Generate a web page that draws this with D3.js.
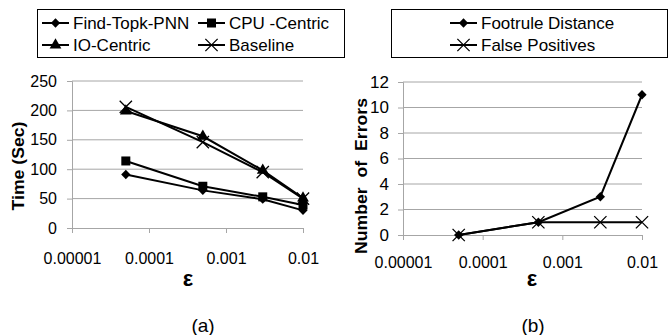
<!DOCTYPE html>
<html>
<head>
<meta charset="utf-8">
<script src="https://cdn.jsdelivr.net/npm/d3@7"></script>
<style>
  body { margin: 0; background: #fff; }
  svg { display: block; }
  text { font-family: "Liberation Sans", Arial, sans-serif; fill: #000; }
</style>
</head>
<body>
<svg id="chart" width="668" height="335"></svg>
<script>
    // epsilon values (x) shared by both panels
    var epsilon = [0.00005, 0.0005, 0.003, 0.01];
    var xTicks = [0.00001, 0.0001, 0.001, 0.01];
    var xTickLabels = ["0.00001", "0.0001", "0.001", "0.01"];

    // panel (a): time in seconds
    var timeNames = ["Find-Topk-PNN", "CPU -Centric", "IO-Centric", "Baseline"];
    var findTopk = [91, 64, 49, 30];
    var cpuCentric = [114, 71, 53, 39];
    var ioCentric = [199, 156, 98, 51];
    var baseline = [206, 146, 95, 50];
    var timeTicks = [0, 50, 100, 150, 200, 250];

    // panel (b): number of errors
    var errNames = ["Footrule Distance", "False Positives"];
    var footrule = [0, 1, 3, 11];
    var falsePos = [0, 1, 1, 1];
    var errTicks = [0, 2, 4, 6, 8, 10, 12];

    var svg = d3.select("#chart");

    function marker(g, type, x, y) {
        if (type == "diamond") {
            g.append("path").attr("d", d3.symbol(d3.symbolDiamond2, 55)())
                .attr("transform", "translate(" + x + "," + y + ")")
                .attr("fill", "#000");
        } else if (type == "square") {
            g.append("rect").attr("x", x - 4.5).attr("y", y - 4.5)
                .attr("width", 9).attr("height", 9).attr("fill", "#000");
        } else if (type == "triangle") {
            g.append("path").attr("d", d3.symbol(d3.symbolTriangle, 60)())
                .attr("transform", "translate(" + x + "," + y + ")")
                .attr("fill", "#000");
        } else if (type == "cross") {
            g.append("path").attr("d", d3.symbol(d3.symbolX, 100)())
                .attr("transform", "translate(" + x + "," + y + ")")
                .attr("fill", "none").attr("stroke", "#000").attr("stroke-width", 1.3);
        }
    }

    function panel(opt) {
        var x = d3.scaleLog().domain([0.00001, 0.01]).range([opt.left, opt.right]);
        var y = d3.scaleLinear().domain([0, opt.ymax]).range([opt.bottom, opt.top]);
        var g = svg.append("g");

        // gridlines
        g.selectAll(".grid").data(opt.yTicks.slice(1)).enter().append("line")
            .attr("x1", opt.left).attr("x2", opt.right)
            .attr("y1", d => y(d)).attr("y2", d => y(d))
            .attr("stroke", "#a6a6a6").attr("stroke-width", 1);

        // y axis
        var ya = g.append("g").attr("transform", "translate(" + opt.left + ",0)")
            .call(d3.axisLeft(y).tickValues(opt.yTicks).tickSize(5).tickPadding(opt.yPad));
        ya.select(".domain").attr("stroke", "#a6a6a6");
        ya.selectAll(".tick line").attr("stroke", "#a6a6a6");
        ya.selectAll("text").style("font-size", opt.yFont).attr("fill", "#000");

        // x axis
        var xa = g.append("g").attr("transform", "translate(0," + opt.bottom + ")")
            .call(d3.axisBottom(x).tickValues(xTicks).tickFormat((d, i) => xTickLabels[i])
                .tickSize(5).tickPadding(opt.xPad));
        xa.select(".domain").attr("stroke", "#a6a6a6");
        xa.selectAll(".tick line").attr("stroke", "#a6a6a6");
        xa.selectAll("text").style("font-size", "16px").attr("fill", "#000");

        // series
        var line = d3.line().x((d, i) => x(epsilon[i])).y(d => y(d));
        opt.series.forEach(function(s) {
            g.append("path").attr("d", line(s.values))
                .attr("fill", "none").attr("stroke", "#000").attr("stroke-width", 2);
            s.values.forEach(function(v, i) {
                marker(g, s.marker, x(epsilon[i]), y(v));
            });
        });

        // axis titles
        g.append("text").attr("x", opt.epsX).attr("y", 286)
            .attr("text-anchor", "middle").style("font-size", "22px").style("font-weight", "bold")
            .text("ε");
        g.append("text")
            .attr("transform", "translate(" + opt.yTitleX + "," + opt.yTitleY + ") rotate(-90)")
            .attr("text-anchor", "middle").style("font-size", opt.yTitleFont).style("font-weight", "bold")
            .attr("textLength", opt.yTitleLen).attr("lengthAdjust", "spacingAndGlyphs")
            .attr("xml:space", "preserve")
            .text(opt.yTitle);
        g.append("text").attr("x", opt.capX).attr("y", 332)
            .attr("text-anchor", "middle").style("font-size", "19px").text(opt.caption);
    }

    panel({
        left: 72, right: 303, top: 81, bottom: 228, ymax: 250, yTicks: timeTicks,
        yPad: 10, xPad: 20, yFont: "16px",
        series: [
            { values: findTopk, marker: "diamond" },
            { values: cpuCentric, marker: "square" },
            { values: ioCentric, marker: "triangle" },
            { values: baseline, marker: "cross" }
        ],
        epsX: 188, yTitleX: 24, yTitleY: 166, yTitle: "Time (Sec)", yTitleFont: "16px", yTitleLen: 89,
        capX: 203, caption: "(a)"
    });
    panel({
        left: 403, right: 642, top: 82, bottom: 235, ymax: 12, yTicks: errTicks,
        yPad: 9, xPad: 17, yFont: "17px",
        series: [
            { values: footrule, marker: "diamond" },
            { values: falsePos, marker: "cross" }
        ],
        epsX: 532, yTitleX: 367, yTitleY: 176, yTitle: "Number  of  Errors", yTitleFont: "17px", yTitleLen: 156,
        capX: 533, caption: "(b)"
    });

    // legends
    function legend(box, items) {
        var g = svg.append("g");
        g.append("rect").attr("x", box[0] + 0.5).attr("y", box[1] + 0.5)
            .attr("width", box[2]).attr("height", box[3])
            .attr("fill", "#fff").attr("stroke", "#000").attr("stroke-width", 1);
        items.forEach(function(it) {
            g.append("line").attr("x1", it.x).attr("x2", it.x + 27)
                .attr("y1", it.y).attr("y2", it.y).attr("stroke", "#000").attr("stroke-width", 2);
            marker(g, it.marker, it.x + 13.5, it.y);
            g.append("text").attr("x", it.x + 31).attr("y", it.y + 6)
                .style("font-size", "17px").text(it.name);
        });
    }
    legend([37, 9, 307, 48], [
        { name: timeNames[0], marker: "diamond", x: 42, y: 23 },
        { name: timeNames[1], marker: "square", x: 198, y: 23 },
        { name: timeNames[2], marker: "triangle", x: 42, y: 45 },
        { name: timeNames[3], marker: "cross", x: 198, y: 45 }
    ]);
    legend([391, 9, 276, 48], [
        { name: errNames[0], marker: "diamond", x: 450, y: 23 },
        { name: errNames[1], marker: "cross", x: 450, y: 45 }
    ]);
</script>
</body>
</html>
